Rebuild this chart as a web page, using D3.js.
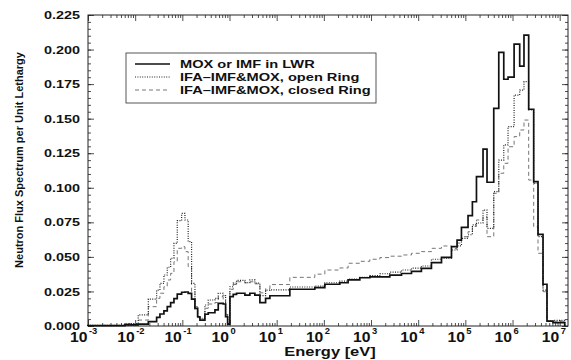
<!DOCTYPE html>
<html>
<head>
<meta charset="utf-8">
<script src="https://cdn.jsdelivr.net/npm/d3@7"></script>
<style>
  body { margin: 0; background: #fff; }
  text { font-family: "Liberation Sans", Arial, sans-serif; font-weight: bold; fill: #111; }
</style>
</head>
<body>
<svg id="chart" width="571" height="360"></svg>
<script>
// group boundaries in eV
const edges = [1e-3, 6.08e-3, 1.16e-2, 1.90e-2, 2.85e-2, 3.35e-2, 4.07e-2, 4.79e-2, 5.65e-2, 6.64e-2,
  7.80e-2, 9.66e-2, 0.1135, 0.133, 0.157, 0.185, 0.211, 0.236, 0.301, 0.354,
  0.491, 0.577, 0.735, 0.826, 0.912, 1.02, 1.20, 1.41, 2.12, 2.70,
  3.45, 4.41, 5.82, 7.18, 19.0, 64.4, 105, 218, 327, 579,
  944, 1540, 2500, 4430, 7210, 1.17e4, 1.91e4, 3.12e4, 5.08e4, 6.67e4,
  8.26e4, 1.14e5, 1.41e5, 1.72e5, 2.37e5, 2.88e5, 4.00e5, 5.11e5, 6.52e5, 8.04e5,
  1.08e6, 1.42e6, 1.75e6, 2.20e6, 2.81e6, 3.47e6, 4.43e6, 5.38e6, 7.21e6, 1.28e7];

const moxLWR = [0.0003, 0.0008, 0.0014, 0.0031, 0.0063, 0.0087, 0.0110, 0.0140, 0.0169, 0.0198,
  0.0231, 0.0244, 0.0246, 0.0236, 0.0195, 0.0128, 0.0067, 0.0043, 0.0085, 0.0096,
  0.0116, 0.0164, 0.0159, 0.0067, 0.0014, 0.0212, 0.0229, 0.0237, 0.0224, 0.0237,
  0.0224, 0.0169, 0.0200, 0.0219, 0.0266, 0.0277, 0.0302, 0.0313, 0.0333, 0.0349,
  0.0355, 0.0355, 0.0368, 0.0380, 0.0395, 0.0417, 0.0458, 0.0497, 0.0574, 0.0622,
  0.0714, 0.0798, 0.0899, 0.108, 0.128, 0.104, 0.1575, 0.198, 0.1785, 0.180,
  0.204, 0.188, 0.2105, 0.1568, 0.1044, 0.0663, 0.0302, 0.0035, 0.0025];

const openRing = [0.0004, 0.0018, 0.0080, 0.0195, 0.0260, 0.0309, 0.0369, 0.0425, 0.0490, 0.0598,
  0.0762, 0.0815, 0.0767, 0.0610, 0.0309, 0.0140, 0.0067, 0.0056, 0.0152, 0.0188,
  0.0200, 0.0237, 0.0220, 0.0087, 0.0018, 0.0284, 0.0310, 0.0330, 0.0313, 0.0333,
  0.0310, 0.0220, 0.0260, 0.0262, 0.0282, 0.0289, 0.0313, 0.0325, 0.0340, 0.0352,
  0.0364, 0.0378, 0.0390, 0.0405, 0.0418, 0.0434, 0.0483, 0.0490, 0.0550, 0.0580,
  0.0634, 0.0660, 0.0731, 0.0745, 0.0839, 0.0707, 0.0972, 0.120, 0.131, 0.1442,
  0.1671, 0.1707, 0.1768, 0.1563, 0.1032, 0.0646, 0.026, 0.0035, 0.004];

const closedRing = [0.0003, 0.0015, 0.0043, 0.0140, 0.0200, 0.0237, 0.0284, 0.0333, 0.0381, 0.0465,
  0.0562, 0.0574, 0.0538, 0.0429, 0.0248, 0.0116, 0.0060, 0.0050, 0.0128, 0.0159,
  0.0170, 0.0212, 0.0190, 0.0080, 0.0018, 0.0265, 0.0300, 0.0320, 0.0313, 0.0320,
  0.0305, 0.0240, 0.0270, 0.0300, 0.0352, 0.0375, 0.0405, 0.0420, 0.0454, 0.0468,
  0.0483, 0.0495, 0.0505, 0.0514, 0.0526, 0.0538, 0.0562, 0.0579, 0.0560, 0.0600,
  0.0646, 0.0682, 0.0720, 0.0767, 0.0790, 0.0646, 0.096, 0.1105, 0.1177, 0.1297,
  0.137, 0.1418, 0.149, 0.1056, 0.0718, 0.0526, 0.0248, 0.0035, 0.003];

const seriesNames = ["MOX or IMF in LWR", "IFA\u2013IMF&MOX, open Ring", "IFA\u2013IMF&MOX, closed Ring"];
const yTicks = [0, 0.025, 0.05, 0.075, 0.1, 0.125, 0.15, 0.175, 0.2, 0.225];
const xExponents = [-3, -2, -1, 0, 1, 2, 3, 4, 5, 6, 7];

const svg = d3.select('#chart');
const mLeft = 88, mRight = 568, mTop = 15, mBottom = 326;
const stretchX = 1.27; // lettering in the scan is wider than tall

const x = d3.scaleLog().domain([1e-3, 1.5e7]).range([mLeft, mRight]);
const y = d3.scaleLinear().domain([0, 0.225]).range([mBottom, mTop]);

function widen(sel, f) {
  sel.each(function () {
    const w = this.getComputedTextLength();
    d3.select(this).attr('textLength', w * f).attr('lengthAdjust', 'spacingAndGlyphs');
  });
}

// ticks on all four sides, pointing inwards
const majorX = xExponents.map(e => Math.pow(10, e));
const minorX = [];
xExponents.forEach(e => { for (let k = 2; k <= 9; k++) { const v = k * Math.pow(10, e); if (v <= 1.5e7) minorX.push(v); } });
const minorY = d3.range(0, 0.2251, 0.005);

function tickLayer(axis, transform) {
  const g = svg.append('g').attr('transform', transform).call(axis);
  g.select('.domain').remove();
  g.selectAll('line').attr('stroke', '#222').attr('stroke-width', 0.8);
  g.selectAll('text').remove();
  return g;
}
tickLayer(d3.axisBottom(x).tickValues(minorX).tickSize(-3), `translate(0,${mBottom})`);
tickLayer(d3.axisBottom(x).tickValues(majorX).tickSize(-6), `translate(0,${mBottom})`);
tickLayer(d3.axisTop(x).tickValues(minorX).tickSize(-3), `translate(0,${mTop})`);
tickLayer(d3.axisTop(x).tickValues(majorX).tickSize(-6), `translate(0,${mTop})`);
tickLayer(d3.axisLeft(y).tickValues(minorY).tickSize(-3), `translate(${mLeft},0)`);
tickLayer(d3.axisLeft(y).tickValues(yTicks).tickSize(-6), `translate(${mLeft},0)`);
tickLayer(d3.axisRight(y).tickValues(minorY).tickSize(-3), `translate(${mRight},0)`);
tickLayer(d3.axisRight(y).tickValues(yTicks).tickSize(-6), `translate(${mRight},0)`);

svg.append('rect')
  .attr('x', mLeft).attr('y', mTop).attr('width', mRight - mLeft).attr('height', mBottom - mTop)
  .attr('fill', 'none').attr('stroke', '#222').attr('stroke-width', 1);

// y tick labels
svg.append('g').selectAll('text').data(yTicks).join('text')
  .attr('x', mLeft - 8).attr('y', d => y(d)).attr('dy', '0.36em')
  .attr('text-anchor', 'end').attr('font-size', 11.5)
  .text(d => d3.format('.3f')(d))
  .call(widen, 1.25);

// x tick labels: 10 with exponent
const xl = svg.append('g');
xExponents.forEach(e => {
  const tx = x(Math.pow(10, e));
  xl.append('text').attr('x', tx - 0.5).attr('y', 341.5).attr('text-anchor', 'end')
    .attr('font-size', 14).text('10').call(widen, 1.12);
  xl.append('text').attr('x', tx + 1).attr('y', 334).attr('text-anchor', 'start')
    .attr('font-size', 8.5).text(String(e)).call(widen, 1.1);
});

// axis titles
svg.append('text').attr('x', 330).attr('y', 356).attr('text-anchor', 'middle')
  .attr('font-size', 13.5).text('Energy [eV]').call(widen, 1.22);
svg.append('text').attr('transform', 'translate(23,160) rotate(-90)').attr('text-anchor', 'middle')
  .attr('font-size', 11).text('Neutron Flux Spectrum per Unit Lethargy');

// histograms
const styles = [
  { data: moxLWR, stroke: '#111', width: 1.7, dash: null },
  { data: openRing, stroke: '#222', width: 1.2, dash: '1,1.4' },
  { data: closedRing, stroke: '#666', width: 0.9, dash: '4,3' }
];
const step = d3.line().x(d => x(d[0])).y(d => y(d[1])).curve(d3.curveStepAfter);
function histPoints(vals) {
  const pts = [[edges[0], 0]];
  vals.forEach((v, i) => pts.push([edges[i], v]));
  pts.push([edges[edges.length - 1], vals[vals.length - 1]]);
  pts.push([edges[edges.length - 1], 0]);
  return pts;
}
svg.append('g').selectAll('path').data(styles.slice().reverse()).join('path')
  .attr('d', d => step(histPoints(d.data)))
  .attr('fill', 'none').attr('stroke', d => d.stroke).attr('stroke-width', d => d.width)
  .attr('stroke-dasharray', d => d.dash);

// legend
const lg = svg.append('g');
lg.append('rect').attr('x', 126).attr('y', 53).attr('width', 250).attr('height', 50)
  .attr('fill', '#fff').attr('stroke', '#444').attr('stroke-width', 0.9);
seriesNames.forEach((name, i) => {
  const cy = 64 + i * 13;
  lg.append('line').attr('x1', 135).attr('x2', 170).attr('y1', cy).attr('y2', cy)
    .attr('stroke', styles[i].stroke).attr('stroke-width', i === 0 ? 1.3 : styles[i].width)
    .attr('stroke-dasharray', styles[i].dash);
  lg.append('text').attr('x', 180).attr('y', cy + 4).attr('font-size', 11.5)
    .text(name).call(widen, stretchX);
});
</script>
</body>
</html>
